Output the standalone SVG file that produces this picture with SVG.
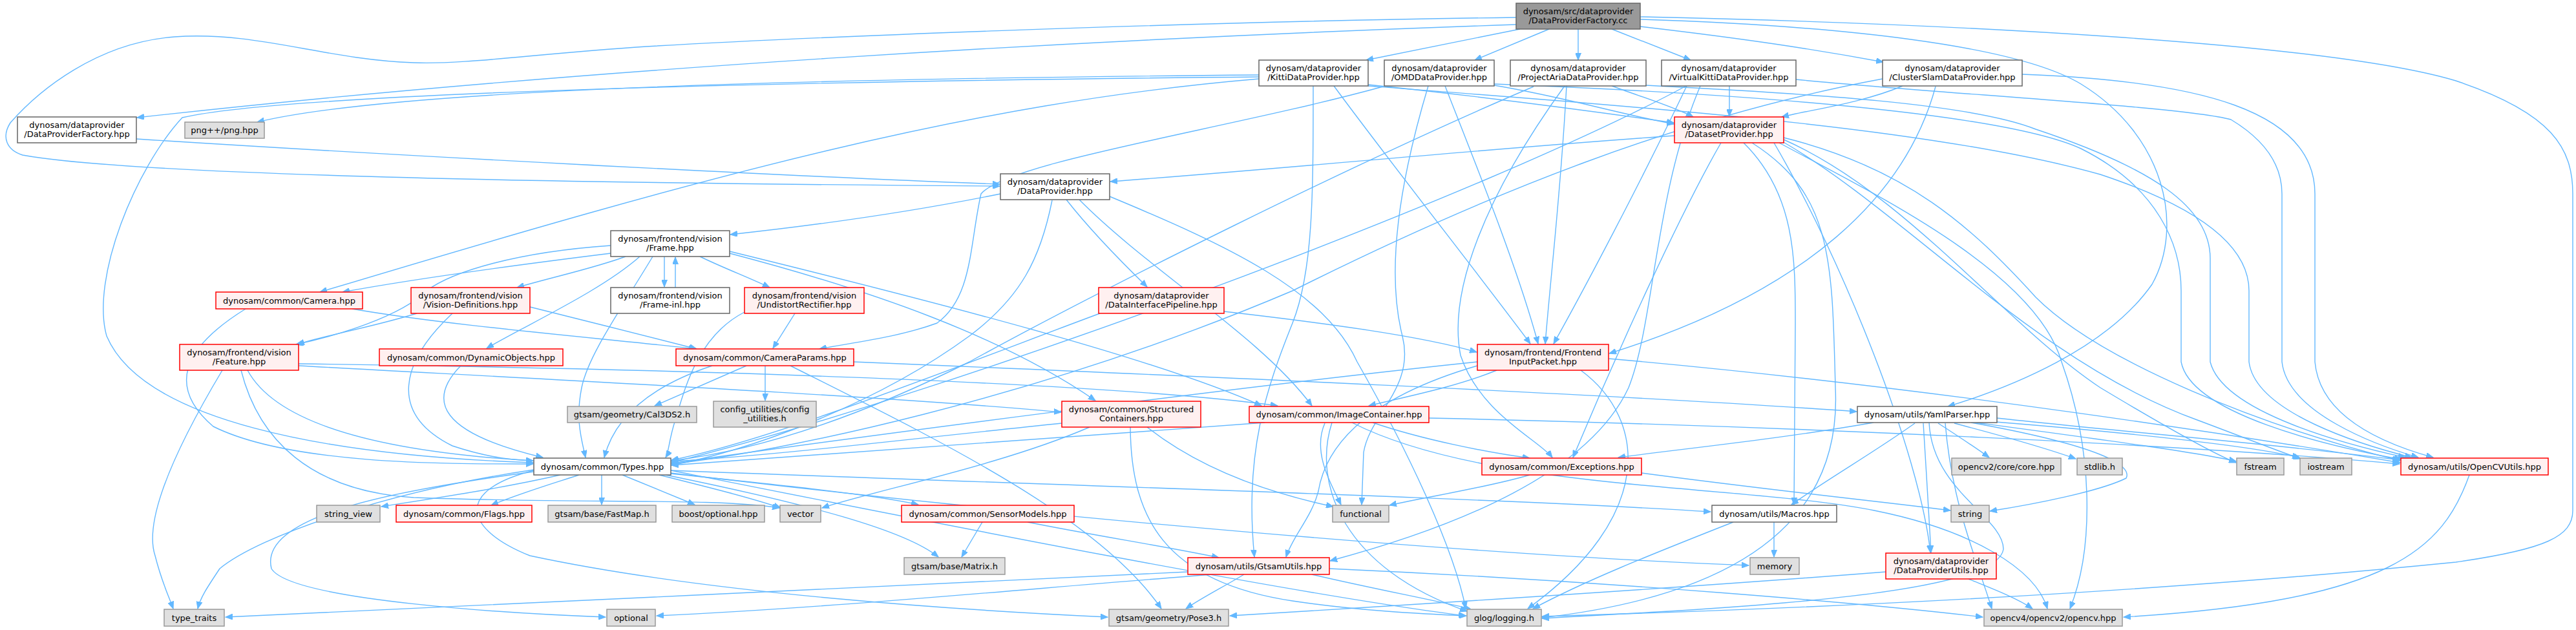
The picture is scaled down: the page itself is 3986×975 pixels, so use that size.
<svg xmlns="http://www.w3.org/2000/svg" width="3986" height="975" viewBox="0 0 3986 975">
<style>
.e{fill:none;stroke:#63b8ff;stroke-width:1.4}
.w rect{fill:#ffffff;stroke:#666666;stroke-width:1.5}
.r rect{fill:#fff0f0;stroke:#ff0000;stroke-width:1.5}
.g rect{fill:#e0e0e0;stroke:#999999;stroke-width:1.5}
.k rect{fill:#999999;stroke:#666666;stroke-width:1.5}
text{font-family:"DejaVu Sans","Liberation Sans",sans-serif;font-size:13px;fill:#000000;text-anchor:middle}
</style>
<defs>
<marker id="a" markerUnits="userSpaceOnUse" markerWidth="12" markerHeight="9" refX="11" refY="4.5" orient="auto">
<path d="M0,0 L11,4.5 L0,9 z" fill="#63b8ff" stroke="#63b8ff" stroke-width="1"/>
</marker>
</defs>
<rect x="0" y="0" width="3986" height="975" fill="#ffffff"/>
<g id="edges" marker-end="url(#a)">
<path class="e" d="M2346,38 C1700,60 900,105 212,182"/>
<path class="e" d="M2346,27 C1800,34 1200,60 1000,72 C820,84 720,100 640,97 C500,92 400,48 270,57 C150,66 60,140 16,190 C2,212 10,232 35,240 C200,270 800,283 1547,288"/>
<path class="e" d="M2352,45 L2114,93"/>
<path class="e" d="M2397,45 L2282,93"/>
<path class="e" d="M2442,45 L2442,93"/>
<path class="e" d="M2494,45 L2616,93"/>
<path class="e" d="M2538,41 C2700,60 2800,75 2914,96"/>
<path class="e" d="M2538,30 C2850,40 3120,70 3220,130 C3350,210 3380,350 3330,440 C3260,540 3110,600 3014,629"/>
<path class="e" d="M2538,26 C3000,36 3600,65 3800,125 C3950,175 3981,230 3981,300 L3981,790 C3981,830 3940,850 3800,870 C3300,920 2800,942 2386,954"/>
<path class="e" d="M1948,116 C1200,122 600,140 398,189"/>
<path class="e" d="M1948,119 C1000,128 420,150 282,182 C210,260 140,430 165,520 C220,650 500,705 825,716"/>
<path class="e" d="M1948,122 C1500,160 1100,270 495,452"/>
<path class="e" d="M2117,131 C2300,150 2450,170 2590,190"/>
<path class="e" d="M2064,133 C2150,250 2300,440 2368,532"/>
<path class="e" d="M2032,133 C2032,300 2032,420 2000,500 C1960,600 1925,700 1941,862"/>
<path class="e" d="M2117,133 C2600,170 3000,200 3250,270 C3400,320 3480,380 3480,450 L3480,560 C3490,640 3660,690 3732,708"/>
<path class="e" d="M2312,132 C2420,150 2500,175 2590,192"/>
<path class="e" d="M2236,133 C2290,270 2350,420 2380,532"/>
<path class="e" d="M2140,134 C1900,200 1560,250 1518,300 C1500,380 1505,460 1450,500 C1390,522 1320,530 1268,540"/>
<path class="e" d="M2210,133 C2160,300 2147,430 2170,520 C2190,600 2120,640 2110,700 L2107,781"/>
<path class="e" d="M2312,130 C2700,145 3100,175 3220,230 C3340,290 3375,380 3375,450 L3375,560 C3390,640 3600,690 3716,711"/>
<path class="e" d="M2494,133 C2540,150 2590,165 2620,181"/>
<path class="e" d="M2424,133 C2415,300 2400,420 2391,532"/>
<path class="e" d="M2373,134 C2100,250 1700,450 1500,560 C1300,660 1150,700 1039,713"/>
<path class="e" d="M2421,133 C2300,300 2240,450 2260,550 C2290,640 2380,680 2402,708"/>
<path class="e" d="M2547,132 C2800,145 3050,160 3150,200 C3330,260 3420,320 3420,400 L3420,560 C3440,640 3640,690 3722,708"/>
<path class="e" d="M2676,133 L2676,180"/>
<path class="e" d="M2610,133 C2540,280 2450,450 2404,532"/>
<path class="e" d="M2609,133 C2300,300 1500,600 1039,716"/>
<path class="e" d="M2631,133 C2560,300 2560,500 2520,600 C2450,750 2200,830 2058,868"/>
<path class="e" d="M2779,123 C3000,145 3380,165 3452,185 C3510,220 3531,260 3531,300 L3531,560 C3540,640 3680,690 3742,708"/>
<path class="e" d="M2944,133 C2880,160 2800,170 2757,181"/>
<path class="e" d="M2995,134 C2950,300 2800,450 2490,547"/>
<path class="e" d="M2913,122 C2600,180 2300,300 2000,450 C1600,620 1200,700 1039,718"/>
<path class="e" d="M3129,115 C3400,125 3582,170 3582,300 L3582,560 C3590,650 3700,690 3765,708"/>
<path class="e" d="M2591,210 C2300,230 2000,260 1718,281"/>
<path class="e" d="M2663,221 C2600,330 2500,550 2434,708"/>
<path class="e" d="M2698,221 C2778,300 2778,400 2778,500 L2776,781"/>
<path class="e" d="M2711,221 C2835,300 2835,400 2840,600 C2850,800 2700,920 2386,956"/>
<path class="e" d="M2760,216 C2950,300 3100,500 3250,600 C3350,660 3420,700 3460,716"/>
<path class="e" d="M2758,219 C2950,330 3150,560 3400,650 C3480,680 3530,700 3560,710"/>
<path class="e" d="M2753,221 C2900,300 3150,420 3190,560 C3240,700 3240,850 3203,942"/>
<path class="e" d="M2745,221 C2850,400 2970,700 2987,855"/>
<path class="e" d="M2760,213 C2950,260 3050,350 3150,460 C3250,560 3500,660 3714,713"/>
<path class="e" d="M1548,300 C1400,330 1250,350 1130,363"/>
<path class="e" d="M1650,309 C1690,360 1740,410 1775,444"/>
<path class="e" d="M1628,310 C1610,400 1580,460 1500,520 C1350,630 1150,700 1039,720"/>
<path class="e" d="M1670,309 C1780,420 1950,520 2030,628"/>
<path class="e" d="M1717,304 C1900,380 2050,450 2100,560 C2180,700 2250,850 2268,942"/>
<path class="e" d="M211,215 C600,240 1200,272 1547,285"/>
<path class="e" d="M1894,482 C2050,500 2200,520 2285,545"/>
<path class="e" d="M1702,485 C1500,560 1200,680 1039,712"/>
<path class="e" d="M945,392 C800,410 650,430 530,452"/>
<path class="e" d="M968,397 C920,415 850,430 800,445"/>
<path class="e" d="M1028,397 L1028,444"/>
<path class="e" d="M1045,445 L1045,398"/>
<path class="e" d="M1083,397 C1120,415 1160,430 1191,445"/>
<path class="e" d="M945,380 C800,390 700,420 660,450 C620,490 520,520 458,533"/>
<path class="e" d="M990,397 C930,450 820,500 753,539"/>
<path class="e" d="M1010,397 C960,480 910,550 900,600 C890,650 900,680 906,708"/>
<path class="e" d="M1129,392 C1350,450 1550,520 1695,620"/>
<path class="e" d="M1129,389 C1500,480 1800,560 1952,628"/>
<path class="e" d="M380,478 C280,540 260,600 330,660 C450,720 700,718 825,718"/>
<path class="e" d="M545,478 C700,505 950,525 1077,540"/>
<path class="e" d="M645,485 C580,505 500,520 460,533"/>
<path class="e" d="M700,485 C620,560 600,640 700,690 C760,710 800,712 825,713"/>
<path class="e" d="M820,475 C900,495 1000,520 1078,540"/>
<path class="e" d="M344,573 C280,680 220,800 240,860 C250,900 260,920 268,942"/>
<path class="e" d="M383,573 C430,660 600,700 825,713"/>
<path class="e" d="M373,573 C400,680 480,760 640,770 C900,780 1100,770 1206,786"/>
<path class="e" d="M462,563 C1000,570 1700,590 1977,628"/>
<path class="e" d="M462,566 C900,590 1400,615 1642,638"/>
<path class="e" d="M713,566 C660,620 680,670 840,708"/>
<path class="e" d="M1155,566 L1013,628"/>
<path class="e" d="M1184,566 L1184,620"/>
<path class="e" d="M1102,566 C1000,600 950,650 935,708"/>
<path class="e" d="M1223,566 C1450,680 1700,800 1797,942"/>
<path class="e" d="M1321,560 C1800,580 2500,610 2873,637"/>
<path class="e" d="M1230,485 L1196,539"/>
<path class="e" d="M1152,483 C1080,520 1060,600 1045,650 C1035,680 1035,700 1030,708"/>
<path class="e" d="M2316,573 C2250,600 2170,615 2118,628"/>
<path class="e" d="M2286,560 C1900,600 1300,680 1039,717"/>
<path class="e" d="M2286,566 C2100,620 2050,700 2040,760 C2030,800 2000,830 1990,862"/>
<path class="e" d="M2446,573 C2550,650 2560,800 2364,942"/>
<path class="e" d="M2489,555 C3000,600 3500,680 3714,716"/>
<path class="e" d="M1957,654 C1600,680 1200,710 1039,720"/>
<path class="e" d="M2124,654 C2200,680 2300,700 2367,709"/>
<path class="e" d="M2061,654 C2030,750 2080,880 2270,946"/>
<path class="e" d="M2050,655 C2030,700 2060,750 2075,781"/>
<path class="e" d="M2211,647 C2800,660 3400,690 3713,718"/>
<path class="e" d="M2092,654 C2300,760 2700,750 2900,790 C3050,820 3150,880 3168,942"/>
<path class="e" d="M1686,661 C1550,720 1350,760 1272,786"/>
<path class="e" d="M1749,661 C1750,800 1800,900 2000,930 C2100,945 2200,950 2269,953"/>
<path class="e" d="M1775,661 C1850,720 1950,760 2063,784"/>
<path class="e" d="M1643,655 C1400,680 1200,705 1039,714"/>
<path class="e" d="M2899,654 C2750,680 2600,695 2504,708"/>
<path class="e" d="M2963,655 C2900,700 2830,740 2772,781"/>
<path class="e" d="M2999,655 C3030,675 3060,695 3078,708"/>
<path class="e" d="M3024,655 C3100,675 3170,695 3212,710"/>
<path class="e" d="M3050,653 C3250,680 3400,700 3460,714"/>
<path class="e" d="M3088,653 C3300,670 3480,690 3558,708"/>
<path class="e" d="M3050,654 C3250,690 3300,720 3290,740 C3250,760 3150,780 3079,791"/>
<path class="e" d="M2976,655 C2980,720 2985,800 2988,855"/>
<path class="e" d="M2985,654 C2990,760 3100,800 3100,850 C3090,920 2700,940 2386,957"/>
<path class="e" d="M3090,647 C3300,670 3550,690 3713,712"/>
<path class="e" d="M3010,655 C3020,780 3060,870 3082,942"/>
<path class="e" d="M2367,735 C2300,755 2200,770 2150,782"/>
<path class="e" d="M2540,732 C2750,760 2900,775 3018,790"/>
<path class="e" d="M2745,808 L2745,862"/>
<path class="e" d="M2682,808 C2550,860 2450,900 2372,942"/>
<path class="e" d="M1877,889 C1600,910 1300,940 1016,953"/>
<path class="e" d="M1925,889 C1890,910 1860,925 1835,942"/>
<path class="e" d="M2030,889 C2120,910 2200,925 2275,942"/>
<path class="e" d="M2057,880 C2500,900 2900,935 3068,955"/>
<path class="e" d="M1838,885 C1400,905 800,935 349,955"/>
<path class="e" d="M1520,808 L1488,862"/>
<path class="e" d="M1590,808 C1700,830 1800,845 1886,863"/>
<path class="e" d="M867,735 C780,755 680,770 590,784"/>
<path class="e" d="M896,735 C850,750 800,765 760,782"/>
<path class="e" d="M931,735 L931,781"/>
<path class="e" d="M963,735 L1075,781"/>
<path class="e" d="M1020,735 C1100,755 1160,770 1208,786"/>
<path class="e" d="M1038,733 C1200,750 1350,765 1421,781"/>
<path class="e" d="M1030,735 C1250,780 1400,820 1452,862"/>
<path class="e" d="M826,728 C700,760 720,820 820,860 C1100,920 1500,945 1714,955"/>
<path class="e" d="M826,730 C600,760 400,800 420,880 C450,930 800,950 937,955"/>
<path class="e" d="M826,727 C600,760 400,830 340,880 C320,910 310,925 306,942"/>
<path class="e" d="M1038,728 C1400,800 2000,920 2268,953"/>
<path class="e" d="M1038,728 C1600,750 2300,770 2647,792"/>
<path class="e" d="M1038,732 C1600,800 2300,860 2706,875"/>
<path class="e" d="M3046,896 C3080,910 3120,925 3145,942"/>
<path class="e" d="M2918,885 C2600,910 2200,935 1903,953"/>
<path class="e" d="M3821,735 C3780,850 3700,930 3286,955"/>
</g>
<g id="n-root" class="k"><rect x="2346" y="5" width="192" height="40"/><text x="2442" y="21.5">dynosam/src/dataprovider</text><text x="2442" y="36">/DataProviderFactory.cc</text></g>
<g id="n-dpfhpp" class="w"><rect x="27" y="181" width="184" height="40"/><text x="119" y="197.5">dynosam/dataprovider</text><text x="119" y="212">/DataProviderFactory.hpp</text></g>
<g id="n-png" class="g"><rect x="286" y="189" width="123" height="25"/><text x="347.5" y="206">png++/png.hpp</text></g>
<g id="n-kitti" class="w"><rect x="1948" y="93" width="169" height="40"/><text x="2032.5" y="109.5">dynosam/dataprovider</text><text x="2032.5" y="124">/KittiDataProvider.hpp</text></g>
<g id="n-omd" class="w"><rect x="2142" y="93" width="170" height="40"/><text x="2227" y="109.5">dynosam/dataprovider</text><text x="2227" y="124">/OMDDataProvider.hpp</text></g>
<g id="n-aria" class="w"><rect x="2337" y="93" width="210" height="40"/><text x="2442" y="109.5">dynosam/dataprovider</text><text x="2442" y="124">/ProjectAriaDataProvider.hpp</text></g>
<g id="n-vkitti" class="w"><rect x="2571" y="93" width="208" height="40"/><text x="2675" y="109.5">dynosam/dataprovider</text><text x="2675" y="124">/VirtualKittiDataProvider.hpp</text></g>
<g id="n-cluster" class="w"><rect x="2913" y="93" width="216" height="40"/><text x="3021" y="109.5">dynosam/dataprovider</text><text x="3021" y="124">/ClusterSlamDataProvider.hpp</text></g>
<g id="n-datasetp" class="r"><rect x="2591" y="181" width="169" height="40"/><text x="2675.5" y="197.5">dynosam/dataprovider</text><text x="2675.5" y="212">/DatasetProvider.hpp</text></g>
<g id="n-dp" class="w"><rect x="1548" y="269" width="169" height="40"/><text x="1632.5" y="285.5">dynosam/dataprovider</text><text x="1632.5" y="300">/DataProvider.hpp</text></g>
<g id="n-frame" class="w"><rect x="945" y="357" width="184" height="40"/><text x="1037" y="373.5">dynosam/frontend/vision</text><text x="1037" y="388">/Frame.hpp</text></g>
<g id="n-camera" class="r"><rect x="334" y="452" width="227" height="26"/><text x="447.5" y="469.5">dynosam/common/Camera.hpp</text></g>
<g id="n-visdef" class="r"><rect x="636" y="445" width="184" height="40"/><text x="728" y="461.5">dynosam/frontend/vision</text><text x="728" y="476">/Vision-Definitions.hpp</text></g>
<g id="n-frameinl" class="w"><rect x="945" y="445" width="184" height="40"/><text x="1037" y="461.5">dynosam/frontend/vision</text><text x="1037" y="476">/Frame-inl.hpp</text></g>
<g id="n-undist" class="r"><rect x="1152" y="445" width="185" height="40"/><text x="1244.5" y="461.5">dynosam/frontend/vision</text><text x="1244.5" y="476">/UndistortRectifier.hpp</text></g>
<g id="n-dip" class="r"><rect x="1700" y="445" width="194" height="40"/><text x="1797" y="461.5">dynosam/dataprovider</text><text x="1797" y="476">/DataInterfacePipeline.hpp</text></g>
<g id="n-fip" class="r"><rect x="2286" y="533" width="203" height="40"/><text x="2387.5" y="549.5">dynosam/frontend/Frontend</text><text x="2387.5" y="564">InputPacket.hpp</text></g>
<g id="n-feature" class="r"><rect x="278" y="533" width="184" height="40"/><text x="370" y="549.5">dynosam/frontend/vision</text><text x="370" y="564">/Feature.hpp</text></g>
<g id="n-dynobj" class="r"><rect x="587" y="540" width="284" height="26"/><text x="729" y="557.5">dynosam/common/DynamicObjects.hpp</text></g>
<g id="n-camparams" class="r"><rect x="1046" y="540" width="275" height="26"/><text x="1183.5" y="557.5">dynosam/common/CameraParams.hpp</text></g>
<g id="n-cal3ds2" class="g"><rect x="878" y="629" width="200" height="25"/><text x="978" y="646">gtsam/geometry/Cal3DS2.h</text></g>
<g id="n-config" class="g"><rect x="1104" y="621" width="159" height="40"/><text x="1183.5" y="637.5">config_utilities/config</text><text x="1183.5" y="652">_utilities.h</text></g>
<g id="n-struct" class="r"><rect x="1643" y="621" width="215" height="40"/><text x="1750.5" y="637.5">dynosam/common/Structured</text><text x="1750.5" y="652">Containers.hpp</text></g>
<g id="n-imgcont" class="r"><rect x="1933" y="629" width="278" height="25"/><text x="2072" y="646">dynosam/common/ImageContainer.hpp</text></g>
<g id="n-yaml" class="w"><rect x="2874" y="629" width="216" height="25"/><text x="2982" y="646">dynosam/utils/YamlParser.hpp</text></g>
<g id="n-types" class="w"><rect x="826" y="709" width="212" height="26"/><text x="932" y="726.5">dynosam/common/Types.hpp</text></g>
<g id="n-exceptions" class="r"><rect x="2293" y="709" width="247" height="26"/><text x="2416.5" y="726.5">dynosam/common/Exceptions.hpp</text></g>
<g id="n-core" class="g"><rect x="3020" y="709" width="169" height="26"/><text x="3104.5" y="726.5">opencv2/core/core.hpp</text></g>
<g id="n-stdlib" class="g"><rect x="3214" y="709" width="70" height="26"/><text x="3249" y="726.5">stdlib.h</text></g>
<g id="n-fstream" class="g"><rect x="3461" y="709" width="73" height="26"/><text x="3497.5" y="726.5">fstream</text></g>
<g id="n-iostream" class="g"><rect x="3559" y="709" width="80" height="26"/><text x="3599" y="726.5">iostream</text></g>
<g id="n-opencvutils" class="r"><rect x="3715" y="709" width="228" height="26"/><text x="3829" y="726.5">dynosam/utils/OpenCVUtils.hpp</text></g>
<g id="n-stringview" class="g"><rect x="490" y="782" width="98" height="26"/><text x="539" y="799.5">string_view</text></g>
<g id="n-flags" class="r"><rect x="613" y="782" width="210" height="26"/><text x="718" y="799.5">dynosam/common/Flags.hpp</text></g>
<g id="n-fastmap" class="g"><rect x="848" y="782" width="167" height="26"/><text x="931.5" y="799.5">gtsam/base/FastMap.h</text></g>
<g id="n-boostopt" class="g"><rect x="1040" y="782" width="143" height="26"/><text x="1111.5" y="799.5">boost/optional.hpp</text></g>
<g id="n-vector" class="g"><rect x="1207" y="782" width="63" height="26"/><text x="1238.5" y="799.5">vector</text></g>
<g id="n-sensormodels" class="r"><rect x="1395" y="782" width="267" height="26"/><text x="1528.5" y="799.5">dynosam/common/SensorModels.hpp</text></g>
<g id="n-functional" class="g"><rect x="2062" y="782" width="87" height="26"/><text x="2105.5" y="799.5">functional</text></g>
<g id="n-macros" class="w"><rect x="2649" y="782" width="193" height="26"/><text x="2745.5" y="799.5">dynosam/utils/Macros.hpp</text></g>
<g id="n-string" class="g"><rect x="3019" y="782" width="59" height="26"/><text x="3048.5" y="799.5">string</text></g>
<g id="n-matrix" class="g"><rect x="1399" y="863" width="156" height="26"/><text x="1477" y="880.5">gtsam/base/Matrix.h</text></g>
<g id="n-gtsamutils" class="r"><rect x="1838" y="863" width="219" height="26"/><text x="1947.5" y="880.5">dynosam/utils/GtsamUtils.hpp</text></g>
<g id="n-memory" class="g"><rect x="2708" y="863" width="76" height="26"/><text x="2746" y="880.5">memory</text></g>
<g id="n-dputils" class="r"><rect x="2918" y="856" width="171" height="40"/><text x="3003.5" y="872.5">dynosam/dataprovider</text><text x="3003.5" y="887">/DataProviderUtils.hpp</text></g>
<g id="n-typetraits" class="g"><rect x="254" y="943" width="93" height="26"/><text x="300.5" y="960.5">type_traits</text></g>
<g id="n-optional" class="g"><rect x="939" y="943" width="75" height="26"/><text x="976.5" y="960.5">optional</text></g>
<g id="n-pose3" class="g"><rect x="1716" y="943" width="185" height="26"/><text x="1808.5" y="960.5">gtsam/geometry/Pose3.h</text></g>
<g id="n-glog" class="g"><rect x="2270" y="943" width="115" height="26"/><text x="2327.5" y="960.5">glog/logging.h</text></g>
<g id="n-opencv" class="g"><rect x="3070" y="943" width="214" height="26"/><text x="3177" y="960.5">opencv4/opencv2/opencv.hpp</text></g>
</svg>
